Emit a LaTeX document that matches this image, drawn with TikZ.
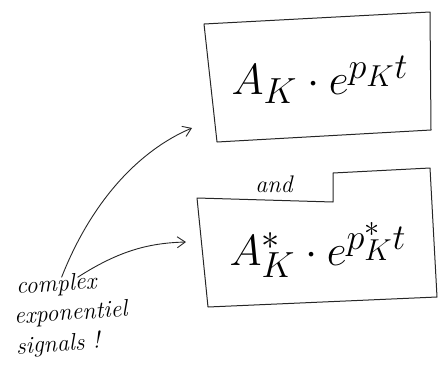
\documentclass[tikz,border=0pt]{standalone}
\usepackage{fontspec}
\usetikzlibrary{arrows.meta}
\begin{document}
\begin{tikzpicture}[x=1pt,y=-1pt,
  boxline/.style={line width=1pt, line join=round, draw=black!85},
  conn/.style={line width=0.9pt, draw=black!85, -{Straight Barb[length=8pt,width=11pt]}},
  formula/.style={font=\Huge, inner sep=0pt, scale=1.75, transform shape},
  note/.style={font=\itshape\fontsize{24}{24}\selectfont, anchor=west, rotate=4, inner sep=0pt}]
\useasboundingbox (0,0) rectangle (441,381);
% top box
\coordinate (a1) at (204,24);
\coordinate (a2) at (430,12);
\coordinate (a3) at (431,130);
\coordinate (a4) at (217,142);
\draw[boxline] (a1) -- (a2) -- (a3) -- (a4) -- cycle;
\node[formula] (f1) at (320,80) {$A_K\cdot e^{p_K t}$};
% bottom box with tab
\coordinate (b1) at (197,198);
\coordinate (b2) at (333,202);
\coordinate (b3) at (333,173);
\coordinate (b4) at (430,168);
\coordinate (b5) at (437,297);
\coordinate (b6) at (208,307);
\draw[boxline] (b1) -- (b2) -- (b3) -- (b4) -- (b5) -- (b6) -- cycle;
\node[font=\itshape\fontsize{24}{24}\selectfont, inner sep=0pt] (and) at (274,184) {and};
\node[formula] (f2) at (318,250) {$A^*_K\cdot e^{p^*_K t}$};
% note
\node[note] (n1) at (16,288) {complex};
\node[note] (n2) at (14,318) {exponentiel};
\node[note] (n3) at (16,348) {signals !};
\coordinate (e1) at (192,128);
\coordinate (e2) at (186,242);
\draw[conn] ([xshift=6pt,yshift=-3pt]n1.north) .. controls (92,200) and (140,150) .. (e1);
\draw[conn] ([xshift=22pt,yshift=-3pt]n1.north) .. controls (120,250) and (150,243) .. (e2);
\end{tikzpicture}
\end{document}
